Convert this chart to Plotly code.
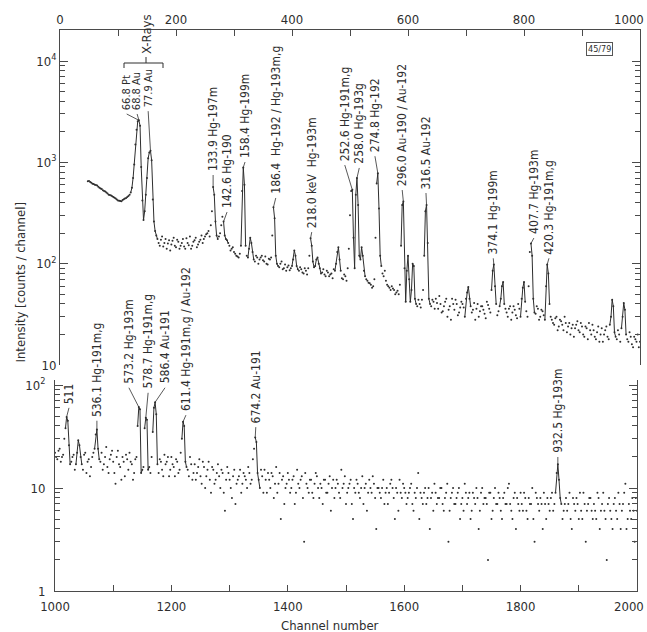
import numpy as np
import plotly.graph_objects as go

W, H = 647, 632

# ---------------------------------------------------------------------------
# Gamma spectrum, counts per channel.  Each panel is stored as two
# interleaved sets (channels 4k and 4k+2) that are merged before drawing.
# ---------------------------------------------------------------------------
top_channels_a = list(range(48, 1001, 4))
top_counts_a = [
    650, 640, 615, 600, 590, 560, 545, 520, 505, 480,
    470, 455, 440, 420, 415, 425, 440, 455, 480, 560,
    950, 2100, 2600, 900, 270, 480, 1100, 1300, 430, 210,
    175, 150, 185, 160, 140, 170, 155, 180, 145, 165,
    150, 175, 140, 160, 185, 150, 170, 145, 165, 190,
    175, 195, 210, 240, 570, 260, 175, 200, 290, 190,
    170, 150, 140, 130, 120, 115, 150, 890, 150, 115,
    180, 130, 105, 115, 110, 120, 105, 100, 112, 115,
    360, 120, 95, 100, 88, 98, 92, 86, 95, 135,
    95, 85, 88, 80, 85, 90, 178, 105, 95, 115,
    90, 82, 78, 85, 75, 80, 88, 100, 145, 85,
    70, 75, 90, 300, 535, 90, 700, 120, 145, 85,
    70, 65, 62, 60, 180, 780, 120, 80, 85, 62,
    58, 60, 55, 52, 50, 150, 410, 42, 120, 42,
    100, 45, 38, 40, 44, 120, 380, 45, 38, 42,
    45, 36, 40, 34, 42, 30, 38, 45, 35, 40,
    33, 42, 37, 45, 59, 38, 35, 28, 40, 34,
    38, 32, 42, 36, 55, 98, 40, 34, 45, 66,
    36, 30, 38, 33, 35, 29, 36, 45, 66, 34,
    60, 158, 45, 32, 36, 30, 34, 28, 98, 40,
    28, 25, 30, 24, 27, 22, 26, 24, 20, 25,
    23, 27, 21, 24, 19, 23, 26, 20, 22, 18,
    24, 20, 17, 22, 19, 25, 44, 21, 18, 20,
    23, 41, 20, 17, 19, 15, 18, 20, 17,
]
top_channels_b = list(range(50, 999, 4))
top_counts_b = [
    655, 628, 610, 598, 575, 552, 530, 515, 492, 475,
    462, 448, 430, 418, 412, 432, 445, 465, 505, 700,
    1500, 2550, 2300, 420, 330, 700, 1250, 1050, 260, 190,
    160, 172, 148, 175, 158, 135, 168, 150, 172, 140,
    160, 148, 178, 152, 140, 165, 180, 155, 172, 160,
    185, 200, 185, 330, 480, 190, 185, 240, 260, 175,
    160, 135, 145, 125, 118, 125, 520, 600, 120, 140,
    160, 110, 120, 100, 115, 108, 118, 98, 110, 190,
    280, 100, 92, 105, 90, 85, 96, 90, 110, 120,
    88, 92, 82, 90, 78, 120, 150, 92, 110, 100,
    80, 88, 75, 82, 78, 72, 85, 130, 110, 72,
    78, 68, 140, 520, 180, 480, 380, 110, 120, 75,
    68, 64, 58, 70, 620, 350, 95, 75, 68, 60,
    55, 57, 50, 54, 62, 380, 90, 85, 70, 55,
    95, 40, 44, 37, 55, 330, 160, 40, 44, 36,
    41, 48, 33, 38, 45, 35, 28, 40, 44, 31,
    37, 40, 30, 52, 45, 33, 41, 36, 30, 38,
    35, 29, 39, 33, 85, 60, 31, 38, 60, 40,
    33, 36, 28, 38, 31, 40, 30, 58, 42, 30,
    130, 120, 33, 38, 28, 35, 31, 60, 80, 30,
    26, 29, 22, 28, 25, 30, 21, 26, 23, 19,
    25, 22, 26, 20, 24, 18, 22, 25, 19, 21,
    17, 23, 20, 24, 18, 30, 38, 19, 22, 17,
    30, 35, 18, 21, 16, 19, 17, 15,
]

bottom_channels_a = list(range(1000, 2001, 4))
bottom_counts_a = [
    22, 19, 24, 20, 30, 49, 26, 18, 21, 17,
    29, 20, 15, 22, 18, 13, 20, 24, 37, 19,
    22, 17, 25, 14, 21, 18, 11, 23, 16, 20,
    13, 19, 22, 17, 14, 20, 61, 14, 16, 48,
    15, 14, 35, 68, 17, 19, 15, 21, 18, 13,
    20, 16, 19, 14, 22, 44, 18, 15, 20, 12,
    17, 14, 19, 11, 16, 13, 18, 9, 15, 12,
    17, 10, 14, 6, 16, 12, 8, 15, 11, 13,
    9, 14, 12, 16, 11, 19, 31, 14, 10, 13,
    15, 9, 12, 14, 8, 16, 11, 5, 13, 10,
    14, 9, 12, 7, 15, 10, 13, 3, 11, 9,
    12, 8, 14, 10, 11, 7, 12, 9, 13, 10,
    8, 12, 9, 15, 11, 7, 10, 12, 5, 9,
    11, 8, 13, 10, 6, 12, 9, 11, 4, 10,
    8, 12, 9, 7, 11, 10, 5, 9, 12, 8,
    10, 7, 9, 11, 6, 8, 14, 9, 7, 10,
    8, 4, 9, 11, 7, 8, 10, 6, 9, 3,
    8, 10, 7, 9, 5, 8, 11, 7, 9, 6,
    8, 10, 4, 9, 7, 8, 2, 9, 6, 10,
    7, 8, 5, 9, 7, 11, 6, 8, 4, 7,
    9, 6, 8, 5, 7, 10, 3, 8, 6, 7,
    9, 5, 7, 8, 6, 9, 17, 8, 5, 7,
    6, 9, 4, 7, 8, 5, 6, 9, 3, 7,
    8, 5, 6, 9, 4, 7, 6, 2, 8, 5,
    7, 6, 9, 4, 7, 11, 5, 6, 8, 3,
    6,
]
bottom_channels_b = list(range(1002, 1999, 4))
bottom_counts_b = [
    20, 23, 18, 21, 38, 45, 17, 20, 15, 22,
    26, 17, 21, 14, 19, 16, 22, 33, 24, 18,
    15, 20, 16, 19, 23, 14, 20, 17, 12, 18,
    21, 15, 18, 12, 19, 40, 58, 15, 38, 46,
    16, 20, 60, 52, 14, 18, 13, 17, 20, 15,
    17, 13, 18, 15, 30, 40, 16, 13, 17, 14,
    12, 16, 13, 18, 10, 15, 12, 16, 11, 14,
    13, 15, 9, 12, 14, 10, 13, 7, 12, 15,
    11, 13, 10, 14, 12, 24, 28, 12, 15, 9,
    12, 14, 10, 13, 11, 9, 14, 12, 7, 11,
    12, 10, 13, 9, 11, 12, 8, 14, 10, 12,
    9, 11, 13, 8, 10, 12, 9, 11, 6, 12,
    10, 11, 8, 10, 13, 9, 11, 7, 10, 12,
    9, 10, 7, 11, 9, 10, 13, 8, 10, 9,
    10, 7, 10, 9, 12, 8, 10, 6, 9, 11,
    9, 8, 10, 7, 9, 10, 5, 8, 9, 7,
    10, 8, 6, 9, 8, 10, 7, 8, 11, 6,
    9, 7, 8, 10, 7, 6, 9, 8, 5, 9,
    7, 8, 6, 10, 8, 7, 9, 5, 8, 7,
    9, 6, 8, 7, 10, 7, 5, 9, 8, 6,
    7, 9, 6, 8, 7, 5, 9, 7, 8, 4,
    7, 8, 6, 9, 7, 14, 12, 7, 6, 8,
    7, 5, 8, 6, 7, 9, 5, 7, 6, 8,
    6, 7, 5, 8, 6, 9, 5, 7, 6, 4,
    8, 5, 7, 6, 9, 4, 7, 5, 6, 8,
]

# axis tick values and labels; the labels of the last ticks are set
# right-aligned so they stay on the page
top_x_ticks = [0, 200, 400, 600, 800, 1000]
top_x_text = ["0", "200", "400", "600", "800", ""]
top_x_last = "1000"
bottom_x_ticks = [1000, 1200, 1400, 1600, 1800, 2000]
bottom_x_text = ["1000", "1200", "1400", "1600", "1800", ""]
bottom_x_last = "2000"

# energy calibration of the analyser: channels per keV
CH_PER_KEV = 2.0

# labelled lines, upper panel (keV, text)
top_energy = [66.8, 68.8, 77.9, 133.9, 142.6, 158.4, 186.4, 218.0, 252.6,
              258.0, 274.8, 296.0, 316.5, 374.1, 407.7, 420.3]
top_text = ["66.8 Pt", "68.8 Au", "77.9 Au", "133.9 Hg-197m", "142.6 Hg-190",
            "158.4 Hg-199m", "186.4\u00a0\u00a0Hg-192 / Hg-193m,g",
            "218.0 keV\u00a0\u00a0Hg-193m", "252.6 Hg-191m,g", "258.0 Hg-193g",
            "274.8 Hg-192", "296.0 Au-190 / Au-192", "316.5 Au-192",
            "374.1 Hg-199m", "407.7 Hg-193m", "420.3 Hg-191m,g"]
# where each label text starts (channel, counts)
top_label_ch = [115, 133, 152, 264, 288, 319, 372, 434, 491,
                516, 543, 590, 631, 747, 817, 843]
top_label_at = [3000, 3000, 3200, 750, 323, 1007, 445, 205, 940,
                880, 1150, 533, 498, 113, 179, 113]
# the crowded X-ray labels are set a little smaller
top_label_size = [11, 11, 11] + [12] * 13

# labelled lines, lower panel
bottom_energy = [511.0, 536.1, 573.2, 578.7, 586.4, 611.4, 674.2, 932.5]
bottom_text = ["511", "536.1 Hg-191m,g", "573.2 Hg-193m", "578.7 Hg-191m,g",
               "586.4 Au-191", "611.4 Hg-191m,g / Au-192", "674.2 Au-191",
               "932.5 Hg-193m"]
bottom_label_ch = [1024, 1072, 1127, 1160, 1189, 1225, 1345, 1864]
bottom_label_at = [60, 45, 94, 84, 94, 51, 39, 20]
bottom_label_size = [12] * 8

# further (unlabelled) lines drawn as connected profiles
top_extra_peaks = [329, 405, 445, 479, 521, 600, 610, 703, 762, 798, 953, 972]
bottom_extra_peaks = [1041]

INK = "#2e2e2e"
AXIS = "#4a4a4a"
FONT = "DejaVu Sans Condensed, Liberation Sans Narrow, DejaVu Sans, sans-serif"


def px(x):
    return x / W


def py(y):
    return 1 - y / H


def merge(ch_a, n_a, ch_b, n_b):
    pairs = sorted(zip(ch_a + ch_b, n_a + n_b))
    return [p[0] for p in pairs], [p[1] for p in pairs]


def peak_top(channels, counts, ch, half=5):
    best = None
    for c, n in zip(channels, counts):
        if abs(c - ch) <= half and (best is None or n > best[1]):
            best = (c, n)
    return best


def profile_lines(channels, counts, windows):
    xs, ys = [], []
    prev = False
    for c, n in zip(channels, counts):
        keep = any(abs(c - p) <= h for p, h in windows)
        if keep:
            xs.append(c)
            ys.append(n)
        elif prev:
            xs.append(None)
            ys.append(None)
        prev = keep
    return xs, ys


top_ch, top_n = merge(top_channels_a, top_counts_a,
                      top_channels_b, top_counts_b)
bot_ch, bot_n = merge(bottom_channels_a, bottom_counts_a,
                      bottom_channels_b, bottom_counts_b)

fig = go.Figure()

# ---- upper panel -----------------------------------------------------------
top_windows = [(e * CH_PER_KEV, 13 if e < 100 else 5) for e in top_energy]
top_windows += [(p, 5) for p in top_extra_peaks]
lx, ly = profile_lines(top_ch, top_n, top_windows)
fig.add_trace(go.Scatter(x=lx, y=ly, mode="lines", xaxis="x", yaxis="y",
                         line=dict(color=INK, width=1), hoverinfo="skip"))
fig.add_trace(go.Scatter(x=top_ch, y=top_n, mode="markers",
                         xaxis="x", yaxis="y",
                         marker=dict(color=INK, size=2.0)))

# ---- lower panel -----------------------------------------------------------
bottom_windows = [(e * CH_PER_KEV, 5) for e in bottom_energy]
bottom_windows += [(p, 5) for p in bottom_extra_peaks]
lx, ly = profile_lines(bot_ch, bot_n, bottom_windows)
fig.add_trace(go.Scatter(x=lx, y=ly, mode="lines", xaxis="x2", yaxis="y2",
                         line=dict(color=INK, width=1), hoverinfo="skip"))
fig.add_trace(go.Scatter(x=bot_ch, y=bot_n, mode="markers",
                         xaxis="x2", yaxis="y2",
                         marker=dict(color=INK, size=2.0)))

# ---- line labels with leaders ----------------------------------------------
annotations = []


def add_labels(energy, text, lab_ch, lab_at, sizes, channels, counts, xa, ya):
    lead_x, lead_y = [], []
    for e, t, c, a, s in zip(energy, text, lab_ch, lab_at, sizes):
        pc, pn = peak_top(channels, counts, e * CH_PER_KEV)
        lead_x += [c, pc, None]
        lead_y += [a, pn, None]
        annotations.append(dict(
            x=c, y=np.log10(a), xref=xa, yref=ya, text=t, textangle=-90,
            xanchor="center", yanchor="bottom", yshift=2, showarrow=False,
            font=dict(family=FONT, size=s, color=INK)))
    fig.add_trace(go.Scatter(x=lead_x, y=lead_y, mode="lines",
                             xaxis=xa, yaxis=ya, hoverinfo="skip",
                             line=dict(color=INK, width=0.8)))


add_labels(top_energy, top_text, top_label_ch, top_label_at, top_label_size,
           top_ch, top_n, "x", "y")
add_labels(bottom_energy, bottom_text, bottom_label_ch, bottom_label_at,
           bottom_label_size, bot_ch, bot_n, "x2", "y2")

# X-ray bracket
shapes = [
    dict(type="line", xref="paper", yref="paper", x0=px(124), x1=px(163),
         y0=py(63), y1=py(63), line=dict(color=INK, width=1)),
    dict(type="line", xref="paper", yref="paper", x0=px(124), x1=px(124),
         y0=py(63), y1=py(68), line=dict(color=INK, width=1)),
    dict(type="line", xref="paper", yref="paper", x0=px(163), x1=px(163),
         y0=py(63), y1=py(68), line=dict(color=INK, width=1)),
    dict(type="line", xref="paper", yref="paper", x0=px(146), x1=px(146),
         y0=py(63), y1=py(57), line=dict(color=INK, width=1)),
]
annotations.append(dict(x=px(146), y=py(56), xref="paper", yref="paper",
                        text="X-Rays", textangle=-90, xanchor="center",
                        yanchor="bottom", showarrow=False,
                        font=dict(family=FONT, size=13, color=INK)))

annotations.append(dict(x=px(613), y=py(42), xref="paper", yref="paper",
                        text="45/79", showarrow=False, bordercolor="#555555",
                        borderwidth=1, borderpad=1,
                        font=dict(family=FONT, size=9, color=INK)))
annotations.append(dict(x=px(11), y=py(282), xref="paper", yref="paper",
                        text="Intensity [counts / channel]", textangle=-90,
                        showarrow=False,
                        font=dict(family=FONT, size=13, color=INK)))
annotations.append(dict(x=px(330), y=py(616), xref="paper", yref="paper",
                        text="Channel number", showarrow=False,
                        xanchor="center", yanchor="top",
                        font=dict(family=FONT, size=13, color=INK)))
# last tick labels of both channel axes
annotations.append(dict(x=px(646), y=py(606), xref="paper", yref="paper",
                        text=bottom_x_last, showarrow=False,
                        xanchor="right", yanchor="middle",
                        font=dict(family=FONT, size=13, color=INK)))
annotations.append(dict(x=px(646), y=py(19), xref="paper", yref="paper",
                        text=top_x_last, showarrow=False,
                        xanchor="right", yanchor="middle",
                        font=dict(family=FONT, size=13, color=INK)))


def log_minor(lo, hi):
    return [m * 10 ** d for d in range(lo, hi) for m in range(2, 10)]


axis_common = dict(showline=True, linecolor=AXIS, linewidth=1,
                   ticks="inside", tickcolor=AXIS, showgrid=False,
                   zeroline=False, automargin=False,
                   ticklabeloverflow="allow",
                   tickfont=dict(family=FONT, size=13, color=INK))

fig.update_layout(
    width=W, height=H, margin=dict(l=0, r=0, t=0, b=0, autoexpand=False),
    paper_bgcolor="white", plot_bgcolor="white", showlegend=False,
    xaxis=dict(domain=[px(60), px(640)], range=[0, 1000], side="top",
               anchor="y", tickvals=top_x_ticks, ticktext=top_x_text,
               ticklen=6,
               minor=dict(tickvals=[100, 300, 500, 700, 900], ticks="inside",
                          ticklen=6, tickcolor=AXIS),
               **axis_common),
    yaxis=dict(domain=[py(365), py(30)], type="log", range=[1, 4.306],
               anchor="x", mirror="allticks",
               tickvals=[10, 100, 1000, 10000],
               ticktext=["10", "10<sup>2</sup>", "10<sup>3</sup>",
                         "10<sup>4</sup>"], ticklen=8,
               minor=dict(tickvals=log_minor(1, 4), ticks="inside",
                          ticklen=5, tickcolor=AXIS),
               **axis_common),
    xaxis2=dict(domain=[px(55), px(637)], range=[1000, 2000], side="bottom",
                anchor="y2", tickvals=bottom_x_ticks, ticktext=bottom_x_text,
                ticklen=6, ticklabelstandoff=3,
                minor=dict(tickvals=[1100, 1300, 1500, 1700, 1900],
                           ticks="inside", ticklen=6, tickcolor=AXIS),
                **axis_common),
    yaxis2=dict(domain=[py(591), py(380)], type="log", range=[0, 2.0485],
                anchor="x2", mirror="allticks", tickvals=[1, 10, 100],
                ticktext=["1", "10", "10<sup>2</sup>"], ticklen=8,
                ticklabelstandoff=6,
                minor=dict(tickvals=log_minor(0, 2), ticks="inside",
                           ticklen=5, tickcolor=AXIS),
                **axis_common),
    annotations=annotations, shapes=shapes,
)

fig.write_html("out.html")
